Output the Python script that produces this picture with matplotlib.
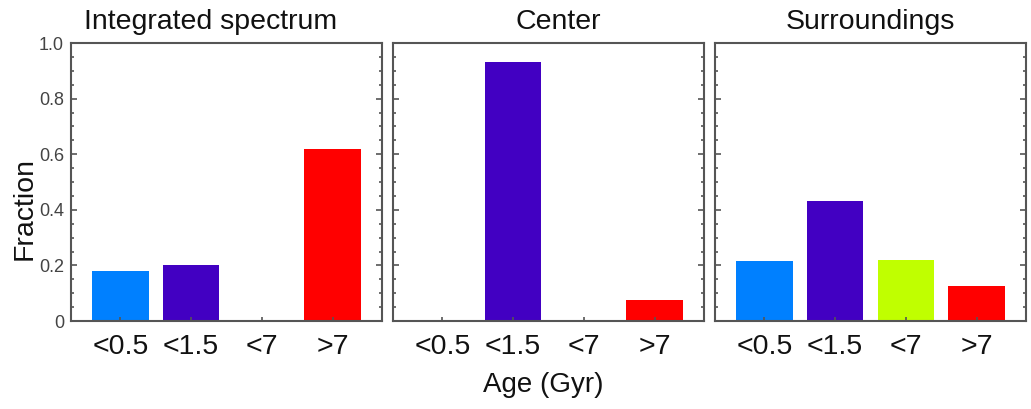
import matplotlib
matplotlib.use("Agg")
import matplotlib.pyplot as plt
from matplotlib.ticker import MultipleLocator, FixedLocator

plt.rcParams['font.family'] = ['Liberation Sans', 'DejaVu Sans']

age_bins = ["<0.5", "<1.5", "<7", ">7"]
bin_colors = ["#0080ff", "#4200c2", "#c0ff00", "#ff0000"]

panel_titles = ["Integrated spectrum", "Center", "Surroundings"]
integrated = [0.18, 0.20, 0.0, 0.62]
center = [0.0, 0.93, 0.0, 0.075]
surroundings = [0.215, 0.43, 0.22, 0.125]
panels = [integrated, center, surroundings]

ytick_vals = [0, 0.2, 0.4, 0.6, 0.8, 1.0]
ytick_labels = ["0", "0.2", "0.4", "0.6", "0.8", "1.0"]

W, H = 1031, 409
fig = plt.figure(figsize=(W / 100, H / 100), dpi=100)

lefts = [71, 393, 715]
width_px = 311
bottom_px, top_px = 321, 43
title_centers = [211, 558, 870]

frame_color = "#555555"
x = list(range(1, len(age_bins) + 1))

for i, (left, vals, title) in enumerate(zip(lefts, panels, panel_titles)):
    ax = fig.add_axes([left / W, (H - bottom_px) / H, width_px / W, (bottom_px - top_px) / H])
    ax.bar(x, vals, width=0.8, color=bin_colors)
    ax.set_xlim(0.3, 4.7)
    ax.set_ylim(0, 1.0)
    ax.set_xticks(x)
    ax.set_xticklabels(age_bins, fontsize=20.5, color="#111111")
    ax.yaxis.set_major_locator(FixedLocator(ytick_vals))
    ax.yaxis.set_minor_locator(MultipleLocator(0.05))
    ax.tick_params(axis='both', which='both', direction='in', right=True,
                   color=frame_color, width=1.2)
    ax.tick_params(axis='y', which='major', length=4, pad=5)
    ax.tick_params(axis='y', which='minor', length=2)
    ax.tick_params(axis='x', which='major', length=3, pad=9)
    if i == 0:
        ax.set_yticklabels(ytick_labels, fontsize=13, color="#444444")
    else:
        ax.set_yticklabels([])
    for sp in ax.spines.values():
        sp.set_color(frame_color)
        sp.set_linewidth(1.5)
    fig.text(title_centers[i] / W, 1 - 22 / H, title, ha="center", va="center",
             fontsize=20.5, color="#111111")

fig.text(25 / W, 1 - 208 / H, "Fraction", ha="center", va="center",
         rotation=90, fontsize=20.5, color="#111111")
fig.text(543 / W, 1 - 385 / H, "Age (Gyr)", ha="center", va="center",
         fontsize=20, color="#111111")

fig.savefig("out.png", dpi=100)
